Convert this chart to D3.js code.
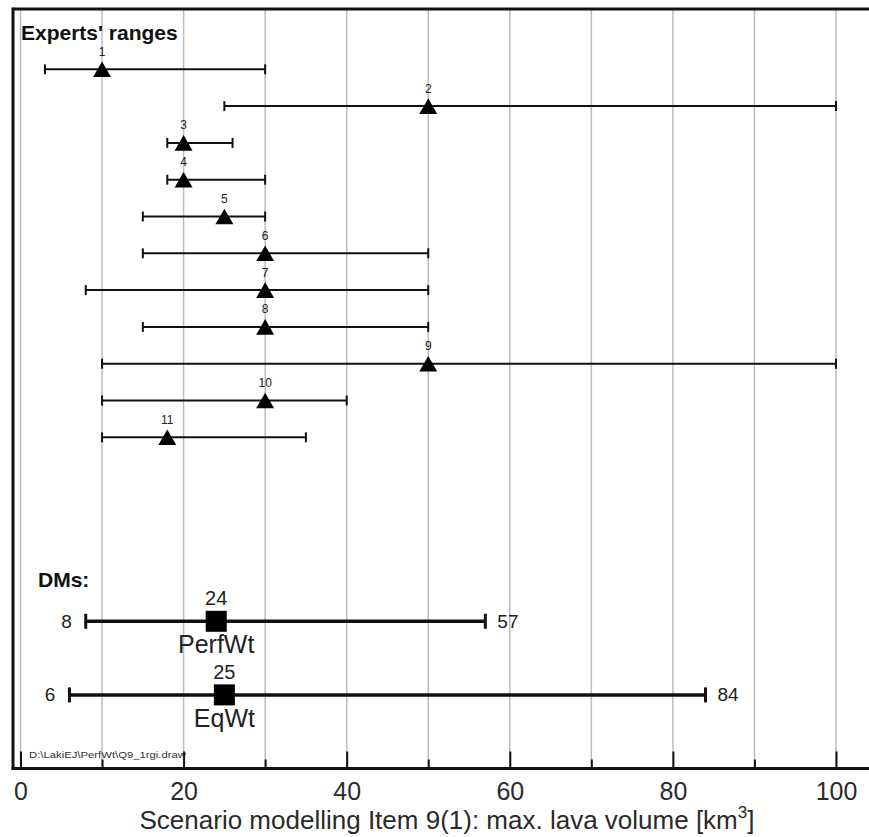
<!DOCTYPE html>
<html>
<head>
<meta charset="utf-8">
<script src="https://cdn.jsdelivr.net/npm/d3@7"></script>
<style>
  html, body { margin: 0; padding: 0; background: #fff; }
  svg { display: block; font-family: "Liberation Sans", Arial, sans-serif; }
</style>
</head>
<body>
<svg id="chart" width="869" height="837"></svg>
<script>
// ---- data ----
const experts = ["1","2","3","4","5","6","7","8","9","10","11"];
const expertLow = [3, 25, 18, 18, 15, 15, 8, 15, 10, 10, 10];
const expertMedian = [10, 50, 20, 20, 25, 30, 30, 30, 50, 30, 18];
const expertHigh = [30, 100, 26, 30, 30, 50, 50, 50, 100, 40, 35];

const dmNames = ["PerfWt", "EqWt"];
const dmLow = [8, 6];
const dmMedian = [24, 25];
const dmHigh = [57, 84];
const dmRows = [16, 18];

const majorTicks = [0, 20, 40, 60, 80, 100];
const minorTicks = [10, 30, 50, 70, 90];
const gridValues = [0, 10, 20, 30, 40, 50, 60, 70, 80, 90, 100];

const xTitle = "Scenario modelling Item 9(1): max. lava volume [km";
const xTitleSup = "3";
const filePath = "D:\\LakiEJ\\PerfWt\\Q9_1rgi.draw";

// ---- layout ----
const W = 869, H = 837;
const frameLeft = 13, frameTop = 9, axisY = 768.5;
const svg = d3.select("#chart");

const x = d3.scaleLinear().domain([0, 100]).range([20.5, 836]);
const y = d3.scaleLinear().domain([0, 18]).range([32.5, 694.9]);

// gridlines
svg.append("g").selectAll("line").data(gridValues).join("line")
  .attr("x1", d => x(d)).attr("x2", d => x(d))
  .attr("y1", frameTop).attr("y2", axisY)
  .attr("stroke", "#bdbdbd").attr("stroke-width", 1.5);

// frame
svg.append("line").attr("x1", frameLeft).attr("x2", W).attr("y1", frameTop).attr("y2", frameTop)
  .attr("stroke", "#111").attr("stroke-width", 3);
svg.append("line").attr("x1", frameLeft).attr("x2", frameLeft).attr("y1", frameTop - 1.5).attr("y2", axisY + 1.5)
  .attr("stroke", "#111").attr("stroke-width", 3);

// axis ticks (major with labels, minor without)
const axMajor = svg.append("g").attr("transform", `translate(0,${axisY})`)
  .call(d3.axisBottom(x).tickValues(majorTicks).tickSizeInner(-17).tickSizeOuter(0).tickPadding(13.5).tickFormat(d3.format("d")));
axMajor.select(".domain").remove();
axMajor.selectAll(".tick line").attr("stroke", "#111").attr("stroke-width", 2);
axMajor.selectAll(".tick text").attr("font-size", 25).attr("fill", "#2a2a2a")
  .attr("font-family", "Liberation Sans, Arial, sans-serif");

const axMinor = svg.append("g").attr("transform", `translate(0,${axisY})`)
  .call(d3.axisBottom(x).tickValues(minorTicks).tickSizeInner(-9).tickSizeOuter(0).tickFormat(""));
axMinor.select(".domain").remove();
axMinor.selectAll(".tick line").attr("stroke", "#111").attr("stroke-width", 2);

svg.append("line").attr("x1", frameLeft - 1.5).attr("x2", W).attr("y1", axisY).attr("y2", axisY)
  .attr("stroke", "#111").attr("stroke-width", 3);

// axis title
const title = svg.append("text").attr("x", 447).attr("y", 829)
  .attr("text-anchor", "middle").attr("font-size", 26).attr("fill", "#2a2a2a")
  .text(xTitle);
title.append("tspan").attr("font-size", 17).attr("dy", -11).text(xTitleSup);
title.append("tspan").attr("dy", 11).text("]");

// headings
svg.append("text").attr("x", 21).attr("y", 40).attr("font-size", 21).attr("font-weight", "bold")
  .attr("fill", "#111").text("Experts' ranges");
svg.append("text").attr("x", 38).attr("y", 587).attr("font-size", 21).attr("font-weight", "bold")
  .attr("fill", "#111").text("DMs:");

// file path
svg.append("text").attr("x", 29).attr("y", 758).attr("font-size", 9.5).attr("fill", "#333")
  .attr("textLength", 157).attr("lengthAdjust", "spacingAndGlyphs").text(filePath);

// experts
const expData = experts.map((e, i) => ({ id: e, row: i + 1, lo: expertLow[i], med: expertMedian[i], hi: expertHigh[i] }));
const eg = svg.append("g").selectAll("g").data(expData).join("g");
eg.append("line").attr("x1", d => x(d.lo)).attr("x2", d => x(d.hi))
  .attr("y1", d => y(d.row)).attr("y2", d => y(d.row)).attr("stroke", "#111").attr("stroke-width", 2);
eg.append("line").attr("x1", d => x(d.lo)).attr("x2", d => x(d.lo))
  .attr("y1", d => y(d.row) - 5).attr("y2", d => y(d.row) + 5).attr("stroke", "#111").attr("stroke-width", 2);
eg.append("line").attr("x1", d => x(d.hi)).attr("x2", d => x(d.hi))
  .attr("y1", d => y(d.row) - 5).attr("y2", d => y(d.row) + 5).attr("stroke", "#111").attr("stroke-width", 2);
const tri = d3.symbol().type(d3.symbolTriangle).size(140);
eg.append("path").attr("d", tri)
  .attr("transform", d => `translate(${x(d.med)},${y(d.row) + 2.6})`).attr("fill", "#000");
eg.append("text").attr("x", d => x(d.med)).attr("y", d => y(d.row) - 13.5)
  .attr("text-anchor", "middle").attr("font-size", 12).attr("fill", "#222").text(d => d.id);

// DMs
const dmData = dmNames.map((n, i) => ({ name: n, row: dmRows[i], lo: dmLow[i], med: dmMedian[i], hi: dmHigh[i] }));
const dg = svg.append("g").selectAll("g").data(dmData).join("g");
dg.append("line").attr("x1", d => x(d.lo)).attr("x2", d => x(d.hi))
  .attr("y1", d => y(d.row)).attr("y2", d => y(d.row)).attr("stroke", "#111").attr("stroke-width", 3.5);
dg.append("line").attr("x1", d => x(d.lo)).attr("x2", d => x(d.lo))
  .attr("y1", d => y(d.row) - 7.5).attr("y2", d => y(d.row) + 7.5).attr("stroke", "#111").attr("stroke-width", 3);
dg.append("line").attr("x1", d => x(d.hi)).attr("x2", d => x(d.hi))
  .attr("y1", d => y(d.row) - 7.5).attr("y2", d => y(d.row) + 7.5).attr("stroke", "#111").attr("stroke-width", 3);
dg.append("rect").attr("x", d => x(d.med) - 10.5).attr("y", d => y(d.row) - 10.5)
  .attr("width", 21).attr("height", 21).attr("fill", "#000");
dg.append("text").attr("x", d => x(d.med)).attr("y", d => y(d.row) - 16)
  .attr("text-anchor", "middle").attr("font-size", 20).attr("fill", "#222").text(d => d.med);
dg.append("text").attr("x", d => x(d.med)).attr("y", d => y(d.row) + 32)
  .attr("text-anchor", "middle").attr("font-size", 25).attr("fill", "#222").text(d => d.name);
dg.append("text").attr("x", d => x(d.lo) - 14).attr("y", d => y(d.row) + 6.5)
  .attr("text-anchor", "end").attr("font-size", 19).attr("fill", "#222").text(d => d.lo);
dg.append("text").attr("x", d => x(d.hi) + 12).attr("y", d => y(d.row) + 6.5)
  .attr("text-anchor", "start").attr("font-size", 19).attr("fill", "#222").text(d => d.hi);
</script>
</body>
</html>
